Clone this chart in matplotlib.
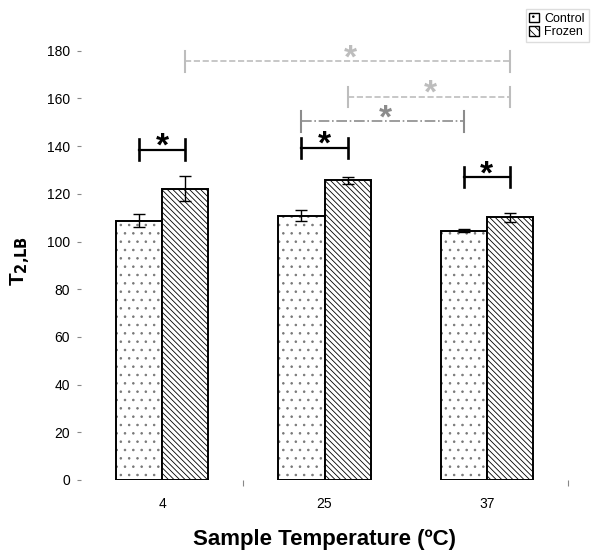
import numpy as np
import matplotlib.pyplot as plt
from matplotlib.patches import Patch

plt.rcParams['font.family'] = ['Liberation Sans', 'DejaVu Sans']
plt.rcParams['hatch.linewidth'] = 0.6

temps = ['4', '25', '37']
control = [108.8, 110.9, 104.5]
control_err = [2.6, 2.4, 0.6]
frozen = [122.1, 125.6, 110.2]
frozen_err = [5.2, 1.4, 1.9]

# black brackets: control vs frozen at each temperature, bracket height
pair_y = [138.5, 139.3, 127.0]
# gray brackets between temperatures: (from bar, to bar, y, star pos, style, colour)
gray_brackets = [
    (('c', 1), ('c', 2), 150.4, 0.52, '-.', '#8c8c8c'),
    (('f', 1), ('f', 2), 160.7, 0.51, '--', '#bdbdbd'),
    (('f', 0), ('f', 2), 175.5, 0.51, '--', '#bdbdbd'),
]

w = 0.285
x = np.arange(len(temps))

fig = plt.figure(figsize=(6.02, 5.58), dpi=100)
ax = fig.add_axes([0.1346, 0.1398, 0.809, 0.812])

# dotted fill in gray, black outline on top
ax.bar(x - w / 2, control, w, color='white', edgecolor='#777777', linewidth=0,
       hatch='..')
ax.bar(x - w / 2, control, w, color='none', edgecolor='black', linewidth=1.4)
ax.bar(x + w / 2, frozen, w, color='white', edgecolor='black', linewidth=1.4,
       hatch='\\\\\\\\\\\\')
ax.errorbar(x - w / 2, control, yerr=control_err, fmt='none', ecolor='black',
            elinewidth=1, capsize=4, capthick=1)
ax.errorbar(x + w / 2, frozen, yerr=frozen_err, fmt='none', ecolor='black',
            elinewidth=1, capsize=4, capthick=1)


def bar_x(b):
    side, i = b
    return x[i] - w / 2 if side == 'c' else x[i] + w / 2


def bracket(x0, x1, y, col, ls, lw, frac=0.5):
    ax.plot([x0, x1], [y, y], color=col, lw=lw, ls=ls)
    ax.plot([x0, x0], [y - 4.3, y + 4.3], color=col, lw=lw + 0.3)
    ax.plot([x1, x1], [y - 4.3, y + 4.3], color=col, lw=lw + 0.3)
    ax.text(x0 + frac * (x1 - x0), y - 2.5, '*', ha='center', va='baseline',
            fontsize=24, fontweight='bold', color=col)


for i, y in enumerate(pair_y):
    bracket(x[i] - w / 2, x[i] + w / 2, y, 'black', '-', 1.6)

for b0, b1, y, frac, ls, col in gray_brackets:
    bracket(bar_x(b0), bar_x(b1), y, col, ls, 1.2, frac)

ax.set_xlim(-0.5, 2.5)
ax.set_ylim(0, 190)
ax.set_yticks(np.arange(0, 181, 20))
ax.set_xticks(x)
ax.set_xticklabels(temps)
ax.set_xticks([0.5, 2.5], minor=True)
ax.tick_params(axis='y', direction='out', length=3, width=0.8, color='#888888',
               pad=5, labelsize=10)
ax.tick_params(axis='x', which='major', length=0, pad=12, labelsize=10)
ax.tick_params(axis='x', which='minor', length=4, width=0.8, color='#888888')
for s in ax.spines.values():
    s.set_visible(False)

ax.set_ylabel('T$_{\\mathbf{2{,}LB}}$', fontsize=15, fontweight='bold')
ax.yaxis.set_label_coords(-0.1, 0.483)
ax.set_xlabel('Sample Temperature (ºC)', fontsize=16, fontweight='bold', labelpad=13)

handles = [
    Patch(facecolor='white', edgecolor='black', hatch='..', label='Control'),
    Patch(facecolor='white', edgecolor='black', hatch='\\\\\\\\', label='Frozen'),
]
leg = ax.legend(handles=handles, loc='upper right', bbox_to_anchor=(1.055, 1.053),
                fontsize=9, handlelength=0.8, handleheight=0.8, handletextpad=0.4,
                borderpad=0.3, labelspacing=0.1, fancybox=False,
                edgecolor='#dddddd', framealpha=1)

fig.savefig('out.png', dpi=100)
